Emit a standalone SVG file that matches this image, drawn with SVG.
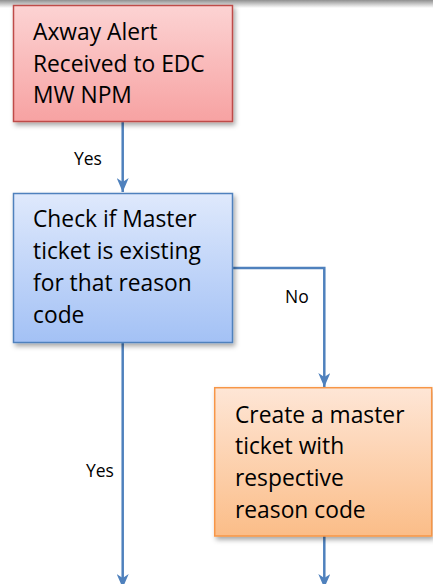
<svg xmlns="http://www.w3.org/2000/svg" width="433" height="584" viewBox="0 0 433 584">
<style>
.t{font-family:"Open Sans","Liberation Sans",sans-serif;font-size:22.8px;fill:#000}
.l{font-family:"Open Sans","Liberation Sans",sans-serif;font-size:17.5px;fill:#000}
.c{fill:none;stroke:#4F81BD;stroke-width:2.5}
</style>
<defs>
<linearGradient id="topbar" x1="0" y1="0" x2="0" y2="1">
<stop offset="0" stop-color="#8f8f8f"/><stop offset="0.6" stop-color="#d4d4d4"/><stop offset="1" stop-color="#ffffff"/>
</linearGradient>
<linearGradient id="gr" x1="0" y1="0" x2="0" y2="1">
<stop offset="0" stop-color="#fcd3d3"/><stop offset="1" stop-color="#f7a2a2"/>
</linearGradient>
<linearGradient id="gb" x1="0" y1="0" x2="0" y2="1">
<stop offset="0" stop-color="#dfe9fc"/><stop offset="1" stop-color="#a3c1f5"/>
</linearGradient>
<linearGradient id="go" x1="0" y1="0" x2="0" y2="1">
<stop offset="0" stop-color="#fee6d6"/><stop offset="1" stop-color="#fbbd88"/>
</linearGradient>
<filter id="sh" x="-10%" y="-10%" width="130%" height="130%">
<feDropShadow dx="2" dy="3" stdDeviation="2.5" flood-color="#000" flood-opacity="0.35"/>
</filter>
<marker id="ah" viewBox="0 0 14 12" refX="14" refY="6" markerWidth="14" markerHeight="12" markerUnits="userSpaceOnUse" orient="auto">
<path d="M0,0 L14,6 L0,12 L4,6 Z" fill="#4F81BD"/>
</marker>
</defs>
<rect x="0" y="0" width="433" height="8" fill="url(#topbar)"/>
<g id="connectors">
<path class="c" d="M122.7,122 V192" marker-end="url(#ah)"/>
<path class="c" d="M122.7,342 V588" marker-end="url(#ah)"/>
<path class="c" d="M232,268 H324.3 V387" marker-end="url(#ah)"/>
<path class="c" d="M324.3,536 V588" marker-end="url(#ah)"/>
<text class="l" x="74" y="165">Yes</text>
<text class="l" x="86" y="477">Yes</text>
<text class="l" x="285" y="303">No</text>
</g>
<g id="node-alert">
<rect x="13.5" y="5.5" width="219" height="116" fill="url(#gr)" stroke="#BE4B48" stroke-width="1.5" filter="url(#sh)"/>
<text class="t" x="33" y="40">Axway Alert</text>
<text class="t" x="33" y="72">Received to EDC</text>
<text class="t" x="33" y="103">MW NPM</text>
</g>
<g id="node-check">
<rect x="13.5" y="193.5" width="219" height="149" fill="url(#gb)" stroke="#4F81BD" stroke-width="1.5" filter="url(#sh)"/>
<text class="t" x="33" y="227">Check if Master</text>
<text class="t" x="33" y="259">ticket is existing</text>
<text class="t" x="33" y="291">for that reason</text>
<text class="t" x="33" y="323">code</text>
</g>
<g id="node-create">
<rect x="214.7" y="387.7" width="217" height="148.3" fill="url(#go)" stroke="#F79646" stroke-width="1.5" filter="url(#sh)"/>
<text class="t" x="235" y="423">Create a master</text>
<text class="t" x="235" y="454">ticket with</text>
<text class="t" x="235" y="486">respective</text>
<text class="t" x="235" y="518">reason code</text>
</g>
</svg>
